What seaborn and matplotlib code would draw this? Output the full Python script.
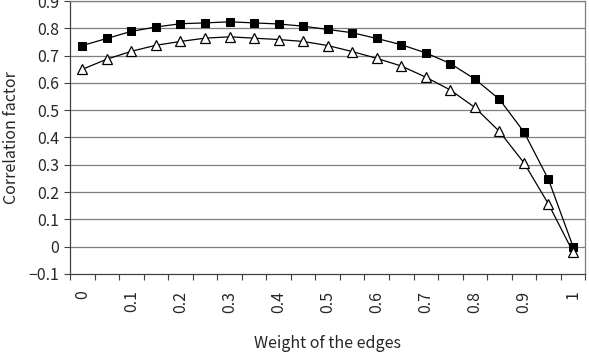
import matplotlib
matplotlib.use('Agg')
import matplotlib.pyplot as plt
import seaborn as sns
import pandas as pd

# edge weights (category axis, 0 .. 1 step 0.05)
weights = [0.0, 0.05, 0.1, 0.15, 0.2, 0.25, 0.3, 0.35, 0.4, 0.45, 0.5,
           0.55, 0.6, 0.65, 0.7, 0.75, 0.8, 0.85, 0.9, 0.95, 1.0]
squares = [0.737, 0.763, 0.789, 0.805, 0.817, 0.820, 0.824, 0.820, 0.816, 0.808, 0.796,
           0.784, 0.763, 0.740, 0.710, 0.671, 0.614, 0.540, 0.420, 0.246, 0.0]
triangles = [0.650, 0.687, 0.716, 0.738, 0.752, 0.764, 0.769, 0.764, 0.759, 0.752, 0.737,
             0.715, 0.690, 0.662, 0.621, 0.574, 0.510, 0.422, 0.307, 0.156, -0.02]
tick_labels = ['0', '0.1', '0.2', '0.3', '0.4', '0.5', '0.6', '0.7', '0.8', '0.9', '1']
y_ticks = [-0.1, 0, 0.1, 0.2, 0.3, 0.4, 0.5, 0.6, 0.7, 0.8, 0.9]

sns.set_style('white')
plt.rcParams['font.family'] = ['Noto Sans CJK JP', 'DejaVu Sans']
plt.rcParams['font.size'] = 11.5

df = pd.DataFrame({'idx': range(len(weights)), 'sq': squares, 'tri': triangles})

fig, ax = plt.subplots(figsize=(5.89, 3.58), dpi=100)
fig.subplots_adjust(left=0.119, right=0.9937, top=0.997, bottom=0.235)

for y in y_ticks[1:]:
    ax.axhline(y, color='#7f7f7f', lw=0.9, zorder=0)

sns.lineplot(data=df, x='idx', y='sq', ax=ax, color='black', lw=0.9,
             marker='s', markersize=6, markerfacecolor='black',
             markeredgecolor='black', zorder=3)
sns.lineplot(data=df, x='idx', y='tri', ax=ax, color='black', lw=0.9,
             marker='^', markersize=7.5, markerfacecolor='white',
             markeredgecolor='black', markeredgewidth=0.9, zorder=3)

ax.set_xlim(-0.5, len(weights) - 0.5)
ax.set_ylim(-0.1, 0.9)
ax.set_yticks(y_ticks)
ax.set_yticklabels(['\u22120.1', '0', '0.1', '0.2', '0.3', '0.4', '0.5',
                    '0.6', '0.7', '0.8', '0.9'])
ax.set_xticks(range(0, len(weights), 2))
ax.set_xticklabels(tick_labels, rotation=90)
ax.set_xticks([i - 0.5 for i in range(len(weights) + 1)], minor=True)
ax.tick_params(axis='x', which='major', length=0, pad=12)
ax.tick_params(axis='x', which='minor', length=4, width=0.8, direction='out',
               color='#404040', bottom=True)
ax.tick_params(axis='y', length=4, width=0.8, direction='out', color='#404040',
               left=True, pad=4)

for side in ['left', 'bottom', 'right', 'top']:
    ax.spines[side].set_visible(True)
    ax.spines[side].set_color('#404040')
    ax.spines[side].set_linewidth(0.9)
ax.spines['top'].set_color('#7f7f7f')
ax.spines['right'].set_color('#7f7f7f')

ax.set_xlabel('Weight of the edges', labelpad=16)
ax.set_ylabel('Correlation factor', labelpad=6)

fig.savefig('out.png', dpi=100)
